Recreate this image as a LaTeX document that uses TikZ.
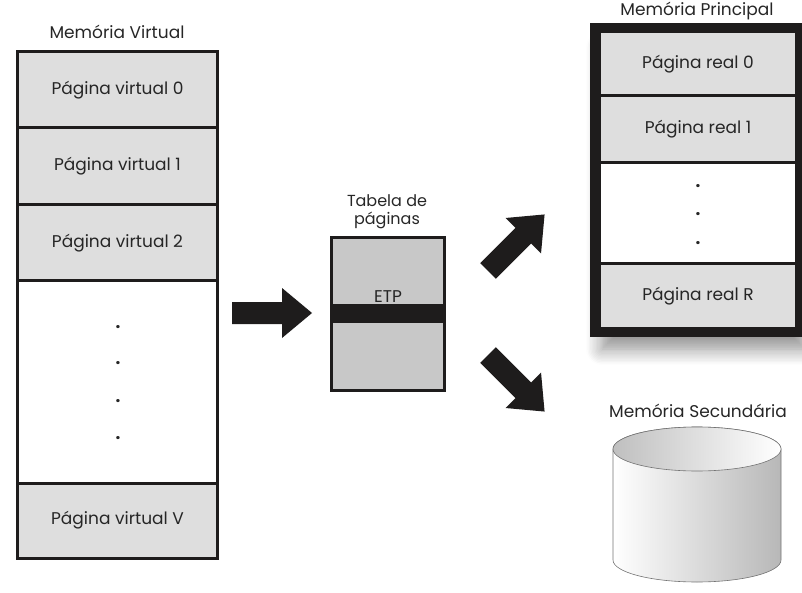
\documentclass[tikz,border=0pt]{standalone}
\usepackage{fontspec}
\setmainfont{Poppins}
\usetikzlibrary{shadows.blur}
\definecolor{cellgray}{RGB}{222,222,222}
\definecolor{tabgray}{RGB}{200,200,200}
\definecolor{edge}{RGB}{30,28,28}
\begin{document}
\begin{tikzpicture}[x=1pt,y=-1pt,
  every node/.style={font=\fontsize{17}{19}\selectfont, text=black!85},
  vcell/.style={draw=edge, line width=3pt, fill=cellgray, minimum width=200pt, inner sep=0pt},
  rcell/.style={draw=edge, line width=3pt, fill=cellgray, minimum width=197pt, inner sep=0pt},
  dotnode/.style={inner sep=0pt, font=\fontsize{17}{17}\bfseries},
  blockarrow/.style={fill=edge}
]
\useasboundingbox (0,0) rectangle (802,593);

% ---------- Memoria Virtual ----------
\node (vt) at (117,32) {Memória Virtual};
\node[vcell, minimum height=76pt] (v0) at (117.5,90) {Página virtual 0};
\node[vcell, minimum height=77pt] (v1) at (117.5,166.5) {Página virtual 1};
\node[vcell, minimum height=76pt] (v2) at (117.5,243) {Página virtual 2};
\node[vcell, minimum height=202pt, fill=white] (vd) at (117.5,382) {};
\node[vcell, minimum height=75pt] (vv) at (117.5,520.5) {Página virtual V};
\foreach \i/\yy in {1/327,2/363,3/401,4/438}
  \node[dotnode] (vdot\i) at (118,\yy) {.};

% ---------- Tabela de paginas ----------
\node[align=center, font=\fontsize{16}{18}\selectfont] (tt) at (387,212) {Tabela de\\páginas};
\node[draw=edge, line width=3pt, fill=tabgray, minimum width=113pt, minimum height=152pt, inner sep=0pt] (tab) at (388,314) {};
\fill[edge] (tab.west |- 0,304) rectangle (tab.east |- 0,323);
\node (etp) at (388,297) {ETP};

% ---------- Memoria Principal ----------
\node (pt) at (697,11) {Memória Principal};
\node[draw=edge, line width=6pt, fill=white, minimum width=203pt, minimum height=301.5pt, inner sep=0pt,
      blur shadow={shadow xshift=6pt, shadow yshift=-18pt, shadow blur radius=16pt, shadow blur steps=12, shadow opacity=45}] (pm) at (697.5,180.25) {};
\node[rcell, minimum height=64pt] (r0) at (698,64) {Página real 0};
\node[rcell, minimum height=67pt] (r1) at (698,129.5) {Página real 1};
\node[rcell, minimum height=101pt, fill=white] (rd) at (698,213.5) {};
\node[rcell, minimum height=64pt] (rr) at (698,296) {Página real R};
\draw[edge, line width=6pt] (pm.north west) rectangle (pm.south east);
\foreach \i/\yy in {1/186,2/214,3/243}
  \node[dotnode] (rdot\i) at (698,\yy) {.};

% ---------- Memoria Secundaria ----------
\node (st) at (698,411) {Memória Secundária};
\path[draw=black!55, line width=0.6pt, left color=white, right color=black!28]
  (613,449) -- (613,560) arc[start angle=180, end angle=360, x radius=84pt, y radius=22pt]
  -- (781,449) arc[start angle=0, end angle=180, x radius=84pt, y radius=22pt] -- cycle;
\path[draw=black!55, line width=0.6pt, left color=black!25, right color=white]
  (697,449) ellipse[x radius=84pt, y radius=22pt];
\coordinate (disk) at (697,500);

% ---------- block arrows ----------
\begin{scope}[shift={(232,313)}]
  \fill[blockarrow] (0pt,11pt) -- (50pt,11pt) -- (50pt,25pt) -- (80pt,0pt) -- (50pt,-25pt) -- (50pt,-11pt) -- (0pt,-11pt) -- cycle;
\end{scope}
\begin{scope}[shift={(488,271)}, rotate=45]
  \fill[blockarrow] (0pt,11pt) -- (50pt,11pt) -- (50pt,25pt) -- (80pt,0pt) -- (50pt,-25pt) -- (50pt,-11pt) -- (0pt,-11pt) -- cycle;
\end{scope}
\begin{scope}[shift={(488,355)}, rotate=-45]
  \fill[blockarrow] (0pt,11pt) -- (50pt,11pt) -- (50pt,25pt) -- (80pt,0pt) -- (50pt,-25pt) -- (50pt,-11pt) -- (0pt,-11pt) -- cycle;
\end{scope}
\end{tikzpicture}
\end{document}
